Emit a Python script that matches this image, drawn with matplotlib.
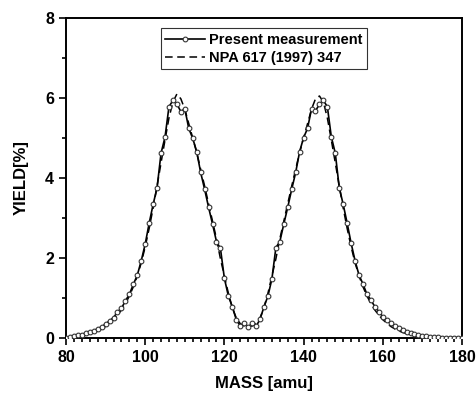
import numpy as np
import matplotlib
matplotlib.use("Agg")
import matplotlib.pyplot as plt
from matplotlib.ticker import MultipleLocator

plt.rcParams['font.family'] = ['Liberation Sans', 'DejaVu Sans']
plt.rcParams['font.weight'] = 'bold'

# mass axis (amu), 1 amu steps
mass = np.arange(80, 181)

meas = [0.01, 0.03, 0.04, 0.07, 0.08, 0.12, 0.16, 0.18, 0.23, 0.28,   # 80-89
        0.35, 0.43, 0.51, 0.65, 0.74, 0.93, 1.09, 1.34, 1.57, 1.93,   # 90-99
        2.35, 2.87, 3.34, 3.76, 4.62, 5.02, 5.78, 5.94, 5.85, 5.66,   # 100-109
        5.73, 5.24, 4.99, 4.66, 4.14, 3.72, 3.27, 2.85, 2.41, 2.24,   # 110-119
        1.49, 1.05, 0.78, 0.46, 0.30, 0.37, 0.27, 0.37, 0.29, 0.47,   # 120-129
        0.78, 1.05, 1.48, 2.26, 2.41, 2.85, 3.27, 3.72, 4.14, 4.66,   # 130-139
        5.01, 5.24, 5.73, 5.68, 5.84, 5.94, 5.78, 5.03, 4.62, 3.76,   # 140-149
        3.34, 2.87, 2.37, 1.93, 1.57, 1.35, 1.09, 0.95, 0.78, 0.66,   # 150-159
        0.53, 0.45, 0.38, 0.30, 0.24, 0.20, 0.15, 0.12, 0.09, 0.07,   # 160-169
        0.05, 0.04, 0.03, 0.02, 0.02, 0.01, 0.01, 0.01, 0.01, 0.01,   # 170-179
        0.01]                                                         # 180

# NPA 617 (1997) 347
ref = [0.01, 0.02, 0.03, 0.04, 0.06, 0.08, 0.11, 0.14, 0.18, 0.23,
       0.29, 0.37, 0.46, 0.57, 0.70, 0.86, 1.05, 1.28, 1.55, 1.88,
       2.28, 2.74, 3.25, 3.80, 4.38, 4.95, 5.50, 5.90, 6.10, 5.98,
       5.72, 5.36, 5.00, 4.64, 4.22, 3.80, 3.36, 2.92, 2.48, 1.98,
       1.55, 1.12, 0.76, 0.50, 0.36, 0.30, 0.29, 0.30, 0.36, 0.50,
       0.76, 1.12, 1.55, 1.98, 2.48, 2.92, 3.36, 3.80, 4.22, 4.64,
       5.00, 5.36, 5.72, 5.98, 6.05, 5.90, 5.50, 4.95, 4.38, 3.80,
       3.25, 2.74, 2.28, 1.88, 1.55, 1.28, 1.05, 0.86, 0.70, 0.57,
       0.46, 0.37, 0.29, 0.23, 0.18, 0.14, 0.11, 0.08, 0.06, 0.04,
       0.03, 0.02, 0.02, 0.01, 0.01, 0.01, 0.01, 0.00, 0.00, 0.00,
       0.00]

fig = plt.figure(figsize=(4.77, 3.94), dpi=100)
ax = fig.add_axes([66/477, 56/394, 396/477, 320/394])

ax.plot(mass, ref, color='black', lw=1.1, ls=(0, (5, 3)), label='NPA 617 (1997) 347', zorder=2)
ax.plot(mass, meas, color='black', lw=1.2, marker='o', ms=3.4, mfc='white',
        mec='#333333', mew=0.8, label='Present measurement', zorder=3)

ax.set_xlim(80, 180)
ax.set_ylim(0, 8)
ax.xaxis.set_major_locator(MultipleLocator(20))
ax.xaxis.set_minor_locator(MultipleLocator(2))
ax.yaxis.set_major_locator(MultipleLocator(2))
ax.yaxis.set_minor_locator(MultipleLocator(1))
ax.tick_params(which='both', direction='out', width=1.2, labelsize=11.5)
ax.tick_params(which='major', length=5)
ax.tick_params(which='minor', length=3)
for s in ax.spines.values():
    s.set_linewidth(1.4)

ax.set_xlabel('MASS [amu]', fontsize=12, fontweight='bold', labelpad=8)
ax.set_ylabel('YIELD[%]', fontsize=12, fontweight='bold', labelpad=12)

h, l = ax.get_legend_handles_labels()
leg = ax.legend(h[::-1], l[::-1], loc='upper center', bbox_to_anchor=(0.5, 0.968),
                fontsize=10.5, frameon=True, fancybox=False, handlelength=2.7,
                handletextpad=0.3, borderpad=0.3, labelspacing=0.3, borderaxespad=0)
leg.get_frame().set_edgecolor('black')
leg.get_frame().set_linewidth(0.8)

fig.savefig('out.png', dpi=100)
